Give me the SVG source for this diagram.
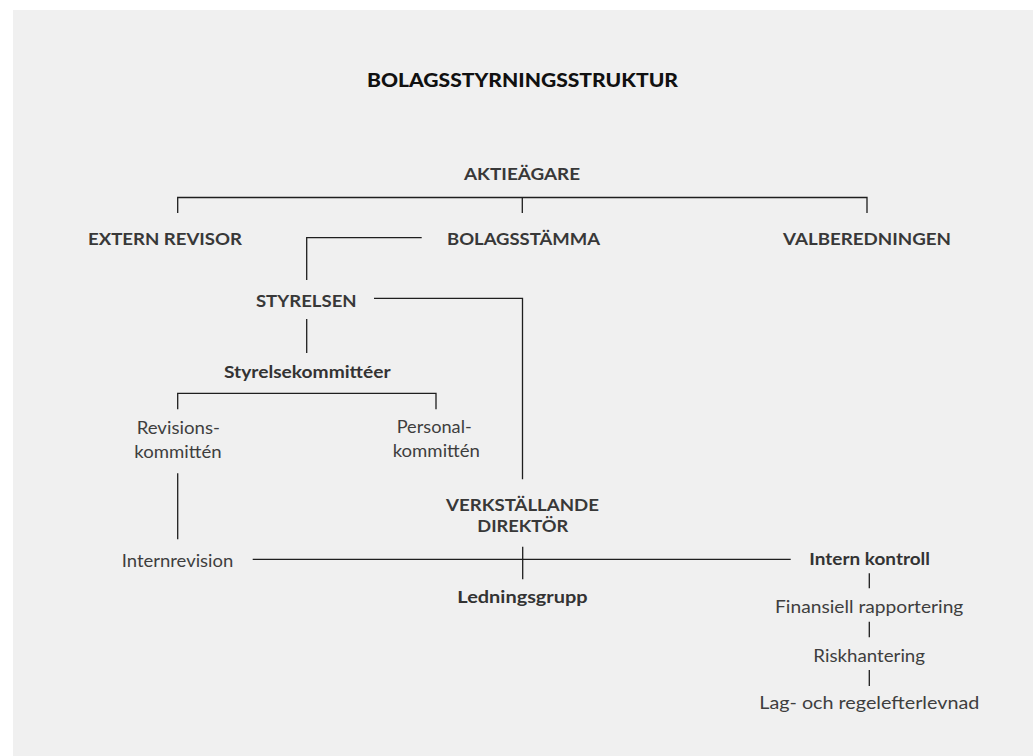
<svg xmlns="http://www.w3.org/2000/svg" width="1033" height="756" viewBox="0 0 1033 756">
<style>
.bg{fill:#f0f0f0}
.title{font-family:Lato,"Liberation Sans",sans-serif;font-weight:900;font-size:19.5px;fill:#111;text-anchor:middle}
.h{font-family:Lato,"Liberation Sans",sans-serif;font-weight:700;font-size:17px;fill:#383838;text-anchor:middle}
.b{font-family:Lato,"Liberation Sans",sans-serif;font-weight:700;font-size:17.5px;fill:#333;text-anchor:middle}
.l{font-family:Lato,"Liberation Sans",sans-serif;font-weight:400;font-size:17px;fill:#3e3e3e;text-anchor:middle}
.c{fill:none;stroke:#1e1e1e;stroke-width:1.3}
</style>
<rect width="1033" height="756" fill="#ffffff"/>
<rect class="bg" x="13" y="10" width="1020" height="746"/>
<text id="title" class="title" x="522.5" y="87" textLength="311" lengthAdjust="spacingAndGlyphs">BOLAGSSTYRNINGSSTRUKTUR</text>
<g id="connectors">
<path class="c" d="M177.7 213V197.5H867V213M522.3 197.5V213"/>
<path class="c" d="M421.7 237.7H306.7V280"/>
<path class="c" d="M374 298.3H522.5V479.3"/>
<path class="c" d="M306.7 319V353"/>
<path class="c" d="M177.7 409.3V393.3H436V409.3"/>
<path class="c" d="M177.7 473.3V539.3"/>
<path class="c" d="M252.7 559.3H790.7"/>
<path class="c" d="M522.7 546.7V579.3"/>
<path class="c" d="M869.3 573.3V588.3M869.3 621.7V637.3M869.3 670V686"/>
</g>
<g id="aktieagare"><text class="h" x="522" y="180" textLength="116" lengthAdjust="spacingAndGlyphs">AKTIEÄGARE</text></g>
<g id="extern-revisor"><text class="h" x="165" y="245" textLength="154" lengthAdjust="spacingAndGlyphs">EXTERN REVISOR</text></g>
<g id="bolagsstamma"><text class="h" x="523.5" y="245" textLength="153" lengthAdjust="spacingAndGlyphs">BOLAGSSTÄMMA</text></g>
<g id="valberedningen"><text class="h" x="867" y="245" textLength="168" lengthAdjust="spacingAndGlyphs">VALBEREDNINGEN</text></g>
<g id="styrelsen"><text class="h" x="306.3" y="307.3" textLength="100.7" lengthAdjust="spacingAndGlyphs">STYRELSEN</text></g>
<g id="styrelsekommitteer"><text class="b" x="307.3" y="377.7" textLength="166.7" lengthAdjust="spacingAndGlyphs">Styrelsekommittéer</text></g>
<g id="revisionskommitten">
<text class="l" x="178.3" y="434.3" textLength="83.3" lengthAdjust="spacingAndGlyphs">Revisions-</text>
<text class="l" x="178" y="458" textLength="87.3" lengthAdjust="spacingAndGlyphs">kommittén</text>
</g>
<g id="personalkommitten">
<text class="l" x="434.2" y="432.7" textLength="75" lengthAdjust="spacingAndGlyphs">Personal-</text>
<text class="l" x="436.3" y="456.7" textLength="87.3" lengthAdjust="spacingAndGlyphs">kommittén</text>
</g>
<g id="vd">
<text class="h" x="522.5" y="510.7" textLength="153" lengthAdjust="spacingAndGlyphs">VERKSTÄLLANDE</text>
<text class="h" x="522.8" y="532.3" textLength="91" lengthAdjust="spacingAndGlyphs">DIREKTÖR</text>
</g>
<g id="internrevision"><text class="l" x="177.5" y="566.7" textLength="111.6" lengthAdjust="spacingAndGlyphs">Internrevision</text></g>
<g id="ledningsgrupp"><text class="b" x="522.5" y="602.7" textLength="130.4" lengthAdjust="spacingAndGlyphs">Ledningsgrupp</text></g>
<g id="intern-kontroll"><text class="b" x="869.7" y="565" textLength="120.7" lengthAdjust="spacingAndGlyphs">Intern kontroll</text></g>
<g id="finansiell"><text class="l" x="869.2" y="613.3" textLength="188.3" lengthAdjust="spacingAndGlyphs">Finansiell rapportering</text></g>
<g id="riskhantering"><text class="l" x="869.2" y="661.7" textLength="111.7" lengthAdjust="spacingAndGlyphs">Riskhantering</text></g>
<g id="regelefterlevnad"><text class="l" x="869.3" y="709.3" textLength="220" lengthAdjust="spacingAndGlyphs">Lag- och regelefterlevnad</text></g>
</svg>
